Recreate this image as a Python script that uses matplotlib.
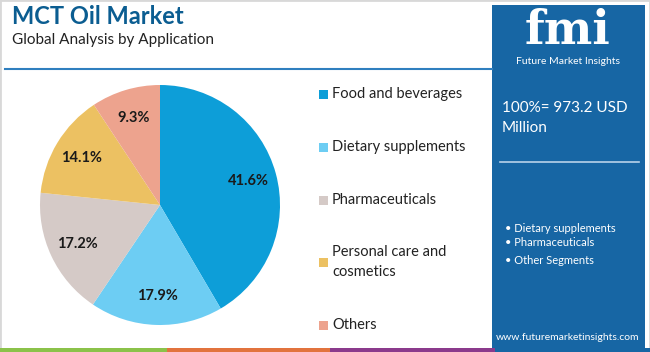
import matplotlib.pyplot as plt
from matplotlib.patches import Rectangle

plt.rcParams['font.family'] = ['Lato', 'DejaVu Sans']

categories = ['Food and beverages', 'Dietary supplements', 'Pharmaceuticals',
              'Personal care and\ncosmetics', 'Others']
shares = [41.6, 17.9, 17.2, 14.1, 9.3]
colors = ['#0d9ed8', '#6dcdf3', '#d5cac7', '#ecc162', '#eda38e']
segments = ['Dietary supplements', 'Pharmaceuticals', 'Other Segments']
total_label = '100%= 973.2 USD\nMillion'

W, H = 650, 352
fig = plt.figure(figsize=(6.5, 3.52), dpi=100)
fig.patch.set_facecolor('white')

def fx(x):
    return x / W

def fy(y):
    return 1 - y / H

# light frame
fig.add_artist(Rectangle((0, 0), 1, 1, transform=fig.transFigure, fill=False,
                         edgecolor='#d8d8d8', linewidth=2))

# title block
fig.text(fx(12), fy(17), 'MCT Oil Market', fontsize=17, fontweight='bold',
         color='#0b5d91', va='center')
fig.text(fx(12), fy(40), 'Global Analysis by Application', fontsize=11,
         color='#222222', va='center')
fig.add_artist(plt.Line2D([fx(5), fx(492)], [fy(69), fy(69)], transform=fig.transFigure,
                          color='#2f7fbf', linewidth=1.5))

# pie
ax = fig.add_axes([fx(40), fy(325), fx(240), 240 / H])
wedges, _, autotexts = ax.pie(shares, colors=colors, startangle=90, counterclock=False,
                              autopct='%1.1f%%', pctdistance=0.76, radius=1,
                              textprops={'fontsize': 10.5, 'fontweight': 'bold',
                                         'color': '#1a1a1a'})
ax.set_xlim(-1, 1)
ax.set_ylim(-1, 1)
ax.set_aspect('equal')
ax.axis('off')

# legend
leg_y = [94, 147, 200, 262, 325]
for cat, col, y in zip(categories, colors, leg_y):
    fig.add_artist(Rectangle((fx(319), fy(y + 5)), fx(9), 9 / H, transform=fig.transFigure,
                             facecolor=col, edgecolor='none'))
    fig.text(fx(332), fy(y), cat, fontsize=10.5, color='#222222', va='center',
             linespacing=1.6)

# right panel
panel_blue = '#1766a4'
fig.add_artist(Rectangle((fx(492), fy(348)), fx(153), 343 / H, transform=fig.transFigure,
                         facecolor=panel_blue, edgecolor='none'))
fig.text(fx(568), fy(31), 'fmi', fontsize=33, fontweight='bold', color='white',
         ha='center', va='center', family=['DejaVu Serif'])
fig.text(fx(568), fy(61), 'Future Market Insights', fontsize=7.5, color='white',
         ha='center', va='center')
fig.text(fx(502), fy(118), total_label, fontsize=11, color='white', va='center',
         linespacing=1.6)
fig.add_artist(plt.Line2D([fx(500), fx(639)], [fy(162), fy(162)], transform=fig.transFigure,
                          color='#b9d3ea', linewidth=1.2))
for seg, y in zip(segments, [229, 243, 260]):
    fig.text(fx(505), fy(y), '\u2022 ' + seg, fontsize=8, color='white', va='center')
fig.text(fx(568), fy(337), 'www.futuremarketinsights.com', fontsize=7.5, color='white',
         ha='center', va='center')

# bottom strip
for x0, x1, c in [(0, 167, '#8bc24a'), (167, 330, '#e2733d'), (330, 495, '#8b3a8c'),
                  (495, 650, panel_blue)]:
    fig.add_artist(Rectangle((fx(x0), 0), fx(x1 - x0), 4 / H, transform=fig.transFigure,
                             facecolor=c, edgecolor='none'))

fig.savefig('out.png', dpi=100)
